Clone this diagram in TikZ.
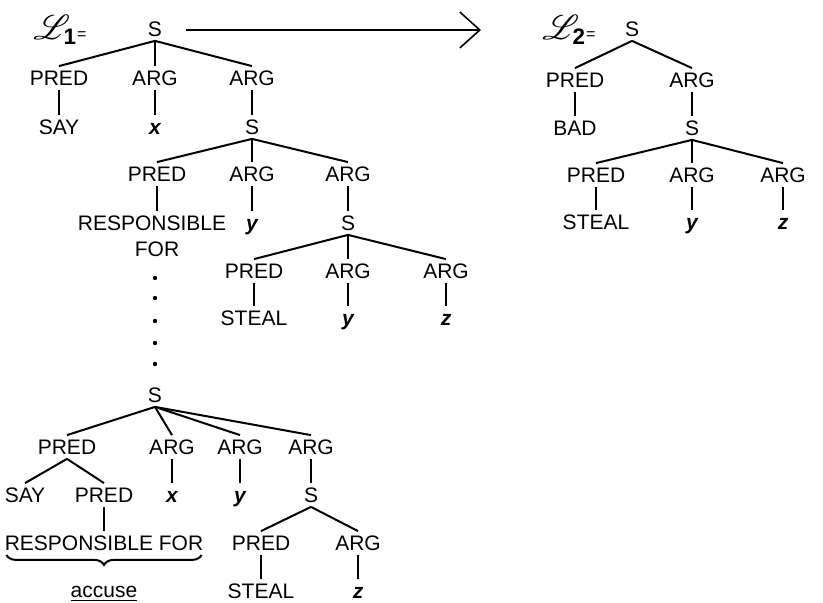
\documentclass[tikz,border=0pt]{standalone}
\usepackage{fontspec}
\setmainfont{Liberation Sans}
\usepackage{mathrsfs}
\usetikzlibrary{arrows.meta,decorations.pathreplacing}

\begin{document}
\begin{tikzpicture}[x=0.5pt, y=-0.5pt,
      cat/.style={inner sep=2pt, text height=7.5pt, text depth=0pt, font=\fontsize{10.5}{12}\selectfont},
      var/.style={cat, font=\fontsize{10.5}{12}\selectfont\bfseries\itshape},
      lang/.style={inner sep=0pt, anchor=west, font=\fontsize{16}{18}\selectfont},
      branch/.style={line width=1pt},
      arr/.style={-{Straight Barb[length=10pt, width=18pt]}, line width=0.8pt}
    ]
      \useasboundingbox (0,0) rectangle (823,603);

      % Left: first tree L1
      \node[lang] (lone) at (33,30) {$\mathscr{L}_{\mathbf{1}}${\fontsize{8}{8}\selectfont =}};
      \node[cat] (as) at (155,29) {S};
      \node[cat] (apred) at (59,78) {PRED};
      \node[cat] (aarg) at (155,78) {ARG};
      \node[cat] (aargb) at (252,78) {ARG};
      \node[cat] (asay) at (59,127) {SAY};
      \node[var] (ax) at (155,127) {x};
      \node[cat] (asb) at (252,127) {S};
      \node[cat] (apredb) at (157,174) {PRED};
      \node[cat] (aargc) at (252,174) {ARG};
      \node[cat] (aargd) at (348,174) {ARG};
      \node[cat] (aresp) at (152,223) {RESPONSIBLE};
      \node[cat] (afor) at (157,249) {FOR};
      \node[var] (ay) at (252,223) {y};
      \node[cat] (asc) at (348,223) {S};
      \node[cat] (apredc) at (254,271) {PRED};
      \node[cat] (aarge) at (348,271) {ARG};
      \node[cat] (aargf) at (446,271) {ARG};
      \node[cat] (asteal) at (254,318) {STEAL};
      \node[var] (ayb) at (348,318) {y};
      \node[var] (az) at (446,318) {z};

      \foreach \c in {apred,aarg,aargb} \draw[branch] (as.south) -- (\c.north);
      \draw[branch] (apred) -- (asay);
      \draw[branch] (aarg) -- (ax);
      \draw[branch] (aargb) -- (asb);
      \foreach \c in {apredb,aargc,aargd} \draw[branch] (asb.south) -- (\c.north);
      \draw[branch] (apredb.south) -- (apredb.south |- aresp.north);
      \draw[branch] (aargc) -- (ay);
      \draw[branch] (aargd) -- (asc);
      \foreach \c in {apredc,aarge,aargf} \draw[branch] (asc.south) -- (\c.north);
      \draw[branch] (apredc) -- (asteal);
      \draw[branch] (aarge) -- (ayb);
      \draw[branch] (aargf) -- (az);

      % Dots down to the lower S
      \foreach \y in {278,298,321,343,364} \fill (155,\y) circle (1.1pt);

      % Bottom: decomposed tree
      \node[cat] (bs) at (155,395) {S};
      \node[cat] (bpred) at (67,447) {PRED};
      \node[cat] (barg) at (172,447) {ARG};
      \node[cat] (bargb) at (240,447) {ARG};
      \node[cat] (bargc) at (311,447) {ARG};
      \node[cat] (bsay) at (25,495) {SAY};
      \node[cat] (bpredb) at (104,495) {PRED};
      \node[var] (bx) at (172,495) {x};
      \node[var] (by) at (240,495) {y};
      \node[cat] (bsb) at (311,495) {S};
      \node[cat] (bresp) at (104,543) {RESPONSIBLE FOR};
      \node[cat] (baccuse) at (104,590) {\underline{accuse}};
      \node[cat] (bpredc) at (261,543) {PRED};
      \node[cat] (bargd) at (358,543) {ARG};
      \node[cat] (bsteal) at (261,591) {STEAL};
      \node[var] (bz) at (358,591) {z};

      \foreach \c in {bpred,barg,bargb,bargc} \draw[branch] (bs.south) -- (\c.north);
      \foreach \c in {bsay,bpredb} \draw[branch] (bpred.south) -- (\c.north);
      \draw[branch] (bpredb) -- (bresp);
      \draw[branch] (barg) -- (bx);
      \draw[branch] (bargb) -- (by);
      \draw[branch] (bargc) -- (bsb);
      \foreach \c in {bpredc,bargd} \draw[branch] (bsb.south) -- (\c.north);
      \draw[branch] (bpredc) -- (bsteal);
      \draw[branch] (bargd) -- (bz);
      \draw[branch, decorate, decoration={brace, mirror, amplitude=5pt}]
        ([xshift=3pt]bresp.south west) -- ([xshift=-3pt]bresp.south east);

      % Right: second tree L2
      \node[lang] (ltwo) at (542,30) {$\mathscr{L}_{\mathbf{2}}${\fontsize{8}{8}\selectfont =}};
      \node[cat] (cs) at (632,29) {S};
      \node[cat] (cpred) at (575,80) {PRED};
      \node[cat] (carg) at (692,80) {ARG};
      \node[cat] (cbad) at (575,128) {BAD};
      \node[cat] (csb) at (692,128) {S};
      \node[cat] (cpredb) at (596,175) {PRED};
      \node[cat] (cargb) at (692,175) {ARG};
      \node[cat] (cargc) at (783,175) {ARG};
      \node[cat] (csteal) at (596,222) {STEAL};
      \node[var] (cy) at (692,222) {y};
      \node[var] (cz) at (783,222) {z};

      \foreach \c in {cpred,carg} \draw[branch] (cs.south) -- (\c.north);
      \draw[branch] (cpred) -- (cbad);
      \draw[branch] (carg) -- (csb);
      \foreach \c in {cpredb,cargb,cargc} \draw[branch] (csb.south) -- (\c.north);
      \draw[branch] (cpredb) -- (csteal);
      \draw[branch] (cargb) -- (cy);
      \draw[branch] (cargc) -- (cz);

      % Transformation arrow
      \coordinate (arrowend) at (481,30);
      \draw[arr] ([xshift=10pt]as.east |- 0,30) -- (arrowend);
    \end{tikzpicture}
\end{document}
